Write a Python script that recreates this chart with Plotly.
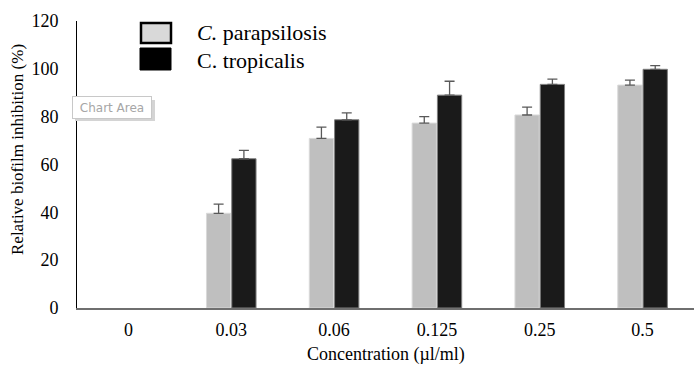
import plotly.graph_objects as go

categories = ["0", "0.03", "0.06", "0.125", "0.25", "0.5"]
series_names = ["C. parapsilosis", "C. tropicalis"]
para_values = [0, 39.6, 70.9, 77.3, 80.7, 93.2]
para_err = [None, 3.8, 4.7, 2.7, 3.3, 2.1]
trop_values = [0, 62.4, 78.7, 89.0, 93.5, 99.8]
trop_err = [None, 3.5, 2.9, 5.8, 2.2, 1.5]
y_ticks = [0, 20, 40, 60, 80, 100, 120]

FONT = "Liberation Serif, Times New Roman, serif"

L, R, T, B = 77, 694, 21, 308
PW, PH = R - L, B - T


def px(x):
    return (x - L) / PW


def py(y):
    return (B - y) / PH


def shown(values, errs):
    # zero-height bars without error bars are simply not drawn
    return [v if e is not None else None for v, e in zip(values, errs)]


fig = go.Figure()
fig.add_trace(go.Bar(
    x=categories, y=shown(para_values, para_err), name=series_names[0],
    marker=dict(color="#bfbfbf", line=dict(color="#d9d9d9", width=1)),
    error_y=dict(type="data", array=para_err, symmetric=False,
                 arrayminus=[0] * len(categories),
                 color="#595959", thickness=1.3, width=5, visible=True),
    showlegend=False,
))
fig.add_trace(go.Bar(
    x=categories, y=shown(trop_values, trop_err), name=series_names[1],
    marker=dict(color="#1a1a1a", line=dict(color="#7f7f7f", width=1)),
    error_y=dict(type="data", array=trop_err, symmetric=False,
                 arrayminus=[0] * len(categories),
                 color="#595959", thickness=1.3, width=5, visible=True),
    showlegend=False,
))

# custom legend (swatches + labels)
fig.add_shape(type="rect", xref="paper", yref="paper",
              x0=px(141), x1=px(171), y0=py(43), y1=py(23),
              fillcolor="#d9d9d9", line=dict(color="#000000", width=2.5))
fig.add_shape(type="rect", xref="paper", yref="paper",
              x0=px(140), x1=px(171), y0=py(70), y1=py(48),
              fillcolor="#000000", line=dict(color="#000000", width=1))
fig.add_annotation(xref="paper", yref="paper", x=px(195), y=py(32),
                   xanchor="left", yanchor="middle", showarrow=False,
                   text="<i>C.</i> parapsilosis",
                   font=dict(family=FONT, size=22, color="#000000"))
fig.add_annotation(xref="paper", yref="paper", x=px(195), y=py(60),
                   xanchor="left", yanchor="middle", showarrow=False,
                   text=series_names[1],
                   font=dict(family=FONT, size=22, color="#000000"))

# "Chart Area" tooltip artifact (shadow + box)
fig.add_shape(type="rect", xref="paper", yref="paper",
              x0=px(75), x1=px(155), y0=py(121), y1=py(100),
              fillcolor="#d4d4d4", line=dict(width=0))
fig.add_annotation(xref="paper", yref="paper", x=px(112), y=py(108),
                   xanchor="center", yanchor="middle", showarrow=False,
                   text="Chart Area", bgcolor="#ffffff", bordercolor="#c8c8c8",
                   borderwidth=1, borderpad=4, width=70, height=13,
                   font=dict(family="DejaVu Sans, sans-serif", size=12, color="#a6a6a6"))

# axis titles
fig.add_annotation(xref="paper", yref="paper", x=px(386), y=py(354),
                   xanchor="center", yanchor="middle", showarrow=False,
                   text="Concentration (µl/ml)",
                   font=dict(family=FONT, size=18, color="#000000"))
fig.add_annotation(xref="paper", yref="paper", x=px(17), y=py(150),
                   xanchor="center", yanchor="middle", showarrow=False, textangle=-90,
                   text="Relative biofilm inhibition (%)",
                   font=dict(family=FONT, size=17, color="#000000"))

fig.update_layout(
    width=694, height=365,
    margin=dict(l=L, r=694 - R, t=T, b=365 - B, autoexpand=False),
    paper_bgcolor="#ffffff", plot_bgcolor="#ffffff",
    barmode="group", bargap=0.508, bargroupgap=0.04,
    font=dict(family=FONT, size=18, color="#000000"),
    xaxis=dict(
        type="category", showgrid=False, showline=True, linecolor="#6f6f6f", linewidth=1.5,
        ticks="outside", ticklen=5, tickcolor="rgba(0,0,0,0)",
        tickfont=dict(family=FONT, size=18), automargin=False,
    ),
    yaxis=dict(
        range=[0, 120], tickvals=y_ticks, showgrid=False, showline=True,
        linecolor="#000000", linewidth=1, zeroline=False,
        ticks="outside", ticklen=14, tickcolor="rgba(0,0,0,0)",
        tickfont=dict(family=FONT, size=18), automargin=False,
    ),
)

fig.write_html("out.html", config={"displayModeBar": False},
               post_script="document.body.style.margin='0';document.body.style.overflow='hidden';")
